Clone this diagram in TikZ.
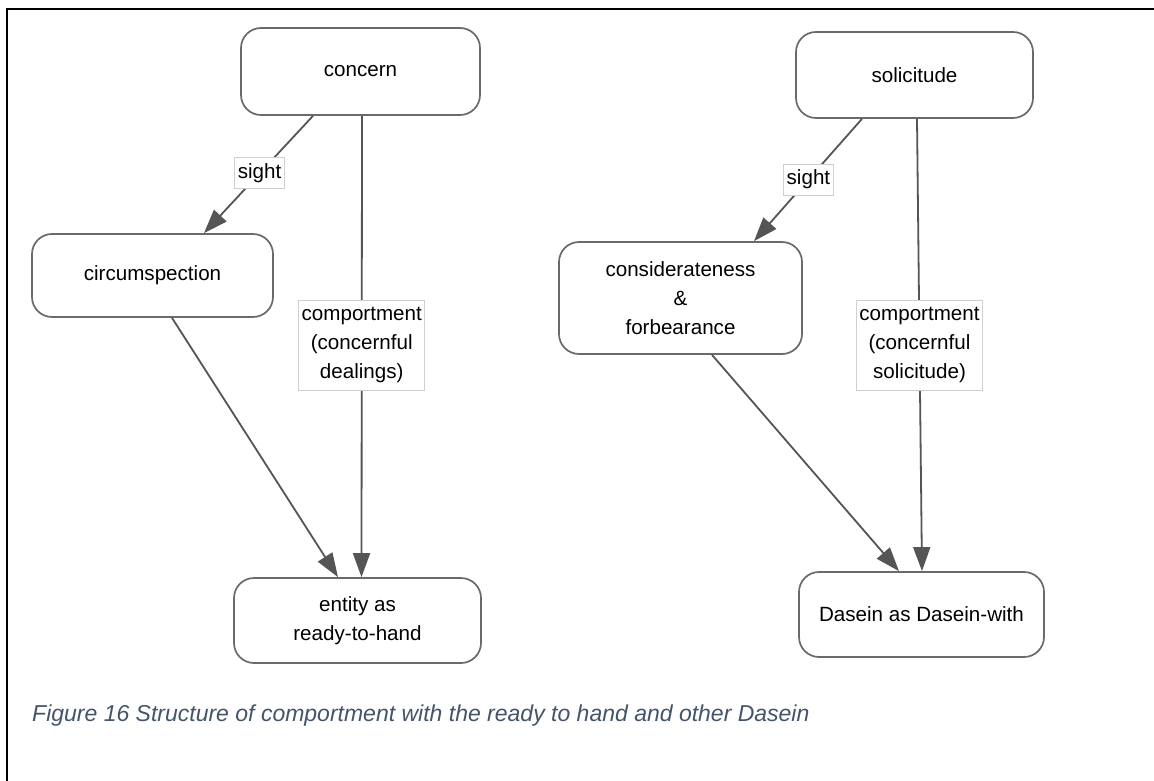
\documentclass[tikz,border=0pt]{standalone}
\usepackage{fontspec}
\setmainfont{Liberation Sans}
\usetikzlibrary{arrows.meta}
\definecolor{boxline}{HTML}{6A6A6A}
\definecolor{arrowgray}{HTML}{555555}
\definecolor{labelline}{HTML}{CFCFCF}
\definecolor{captionblue}{HTML}{44546A}
\tikzset{
  concept/.style={draw=boxline, line width=1.7pt, rounded corners=20pt,
    fill=white, align=center, inner sep=0pt,
    font=\fontsize{20.6}{29}\selectfont},
  linklabel/.style={draw=labelline, line width=1pt, fill=white, align=center,
    inner xsep=3pt, inner ysep=0pt, font=\fontsize{20.6}{29}\selectfont},
  link/.style={draw=arrowgray, line width=1.8pt,
    -{Triangle[length=24pt,width=17pt]}},
}
\begin{document}
\begin{tikzpicture}[x=1pt,y=-1pt]
\useasboundingbox (0,0) rectangle (1154,781);
\fill[white] (0,0) rectangle (1154,781);
% page frame (top and left rules)
\draw[line width=2pt] (7,781) -- (7,9) -- (1154,9);

% concepts
\node[concept, minimum width=239pt, minimum height=87pt] (concern) at (360.5,71.5) {concern};
\node[concept, minimum width=241pt, minimum height=83pt] (circ) at (152.5,275.5) {circumspection};
\node[concept, minimum width=247pt, minimum height=85pt] (entity) at (357.5,620.5) {entity as\\ready-to-hand};
\node[concept, minimum width=237pt, minimum height=86pt] (solic) at (914.5,75) {solicitude};
\node[concept, minimum width=243pt, minimum height=112pt] (consid) at (680.5,298) {considerateness\\\&\\forbearance};
\node[concept, minimum width=245pt, minimum height=85pt] (dasein) at (921.5,614.5) {Dasein as Dasein-with};

% links of concern
\draw[link] ([xshift=-47.5pt]concern.south) -- ([xshift=51.5pt]circ.north)
  node[linklabel, pos=0.49, minimum height=31pt] {sight};
\draw[link] ([xshift=19.5pt]circ.south) -- ([xshift=-19.5pt]entity.north);
\draw[link] ([xshift=1.5pt]concern.south) -- ([xshift=4pt]entity.north)
  node[linklabel, pos=0.497, minimum height=90pt] {comportment\\(concernful\\dealings)};

% links of solicitude
\draw[link] ([xshift=-52.5pt]solic.south) -- ([xshift=73.5pt]consid.north)
  node[linklabel, pos=0.496, minimum height=31pt] {sight};
\draw[link] ([xshift=31.5pt]consid.south) -- ([xshift=-22.5pt]dasein.north);
\draw[link] ([xshift=2.5pt]solic.south) -- ([xshift=0.5pt]dasein.north)
  node[linklabel, pos=0.5, minimum height=90pt] {comportment\\(concernful\\solicitude)};

% caption
\node[anchor=base west, inner sep=0pt, text=captionblue,
  font=\fontsize{23}{27}\selectfont\itshape] (caption) at (32,721)
  {Figure 16 Structure of comportment with the ready to hand and other Dasein};
\end{tikzpicture}
\end{document}
